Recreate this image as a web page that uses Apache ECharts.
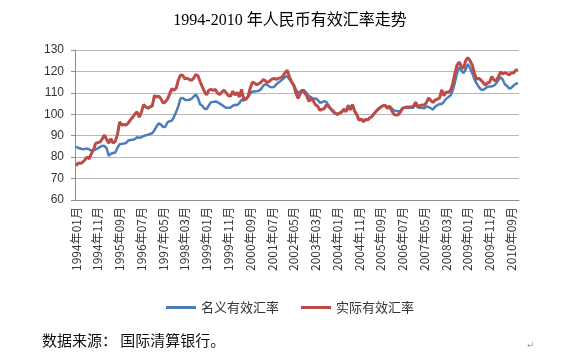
<!DOCTYPE html>
<html><head><meta charset="utf-8">
<script src="https://cdn.jsdelivr.net/npm/echarts@6/dist/echarts.min.js"></script>
<style>html,body{margin:0;padding:0;background:#fff}#c{width:580px;height:361px}</style>
</head><body><div id="c"></div>
<script>
// Category range: monthly, 1994-01 .. 2010-12
const startYear = 1994, endYear = 2010;
const categories = [];
for (let y = startYear; y <= endYear; y++) for (let m = 1; m <= 12; m++) categories.push(y + '年' + (m < 10 ? '0' + m : m) + '月');

const seriesNames = ['名义有效汇率', '实际有效汇率'];
const yTicks = [60, 70, 80, 90, 100, 110, 120, 130];

// 名义有效汇率 (nominal), monthly
const nominal = [
84.9,84.3,84.0,83.7,83.8,84.0,83.6,83.0,83.2,83.6,84.1,84.8,
85.3,85.2,84.2,80.6,81.6,81.9,82.2,84.4,86.0,86.2,86.4,86.6,
87.8,88.0,88.1,88.4,89.3,89.0,89.3,89.8,90.2,90.4,90.8,91.2,
92.6,94.4,95.8,95.2,94.0,94.2,96.2,96.8,97.0,98.8,101.2,103.8,
107.4,107.6,106.8,106.6,106.8,107.2,108.2,109.2,107.6,104.6,104.0,102.6,
102.4,104.2,105.6,105.8,106.0,105.6,105.0,104.4,103.6,103.0,103.0,103.2,
104.0,104.4,104.3,105.2,106.8,106.4,107.4,108.2,109.6,110.6,110.6,110.8,
111.0,111.8,113.4,114.0,113.6,112.8,112.6,112.8,114.0,114.8,115.6,116.4,
117.4,117.8,116.4,115.0,113.6,111.6,110.0,110.6,111.4,111.0,109.8,108.4,
108.0,107.2,107.4,106.8,105.4,105.6,106.2,105.6,104.2,102.4,101.2,100.4,
99.8,100.4,101.0,102.2,101.6,104.2,103.0,104.5,101.6,99.8,97.4,97.8,
96.6,97.6,97.4,98.4,99.0,100.4,101.6,102.6,103.4,104.0,104.2,103.2,
103.8,102.8,101.8,101.6,101.4,101.6,102.8,103.0,103.2,103.0,103.0,103.2,
104.6,103.2,103.0,103.0,102.8,103.6,103.4,102.8,102.2,103.6,104.2,104.8,
104.8,105.8,107.2,108.0,108.8,111.0,114.6,119.0,122.0,120.6,119.2,121.0,
123.4,121.6,119.2,116.4,114.4,112.8,111.6,111.4,112.0,112.8,113.0,113.0,
113.4,114.4,116.0,117.4,116.2,114.0,113.2,112.0,112.4,113.4,114.2,114.6
];

// 实际有效汇率 (real), monthly
const real = [
75.9,77.3,77.1,77.6,78.7,80.0,79.2,81.5,83.5,86.4,86.8,87.0,
88.5,90.4,88.3,86.5,88.6,86.5,87.4,90.5,96.4,95.0,95.2,95.0,
96.0,97.4,98.6,100.1,101.1,98.6,101.0,104.5,103.5,102.8,103.5,103.8,
108.8,108.0,108.5,107.2,105.2,105.8,107.0,109.5,112.0,111.2,112.2,116.0,
118.3,118.2,116.5,116.8,116.3,115.8,116.8,118.6,118.0,115.2,112.8,110.6,
109.0,111.3,111.6,111.2,111.6,109.8,109.2,110.4,111.3,110.0,108.6,108.5,
110.8,109.0,110.2,108.0,111.6,107.2,106.8,108.3,112.2,115.0,114.5,113.8,
114.3,115.0,116.2,115.6,114.8,115.6,116.4,116.8,116.2,116.8,117.0,117.8,
119.3,120.6,117.5,115.2,113.6,109.8,107.4,109.6,111.4,110.0,108.6,106.0,
107.4,106.2,104.4,103.8,101.8,102.4,102.6,104.4,103.6,102.6,101.6,100.6,
100.0,100.6,101.0,102.4,101.2,104.0,102.0,104.5,101.4,99.8,97.2,97.8,
96.6,97.6,97.4,98.4,99.0,100.4,101.6,102.6,103.4,104.0,104.2,102.8,
103.6,101.8,100.0,99.6,99.8,101.0,102.8,103.2,103.4,103.4,103.4,103.8,
105.6,103.8,104.0,104.4,104.2,105.6,107.6,106.4,105.5,106.7,107.0,107.6,
111.4,108.6,110.4,110.2,111.0,114.0,119.0,122.8,124.4,122.4,121.4,125.0,
126.4,125.0,123.0,119.2,116.4,116.8,116.0,114.8,113.6,114.6,115.0,117.6,
116.0,115.6,117.4,119.8,118.8,119.4,119.0,118.4,119.4,119.2,120.6,120.8
];

const chart = echarts.init(document.getElementById('c'), null, {renderer: 'canvas'});
chart.setOption({
  animation: false,
  backgroundColor: '#ffffff',
  title: {
    text: '1994-2010 年人民币有效汇率走势',
    left: 'center', top: 8,
    textStyle: {fontFamily: '"Liberation Serif","Noto Sans CJK SC"', fontSize: 16, fontWeight: 'normal', color: '#000'}
  },
  legend: {
    bottom: 42, left: 'center',
    itemWidth: 30, itemHeight: 3, itemGap: 22,
    icon: 'rect',
    textStyle: {fontFamily: '"Noto Sans CJK SC"', fontSize: 13, color: '#333'},
    data: seriesNames
  },
  grid: {left: 75, right: 61, top: 50, bottom: 161},
  xAxis: {
    type: 'category', data: categories, boundaryGap: true,
    axisLine: {lineStyle: {color: '#8c8c8c', width: 1}},
    axisTick: {interval: 9, alignWithLabel: true, length: 5, lineStyle: {color: '#8c8c8c'}},
    axisLabel: {interval: 9, rotate: 90, fontSize: 12, color: '#333', fontFamily: '"Noto Sans CJK SC"', margin: 7}
  },
  yAxis: {
    type: 'value', min: yTicks[0], max: yTicks[yTicks.length - 1], interval: 10,
    axisLine: {show: true, lineStyle: {color: '#8c8c8c'}},
    axisTick: {show: true, length: 4, lineStyle: {color: '#8c8c8c'}},
    axisLabel: {fontSize: 12, color: '#333', fontFamily: '"Liberation Sans"', margin: 11},
    splitLine: {lineStyle: {color: '#b8b8b8', width: 1}}
  },
  series: [
    {name: seriesNames[0], type: 'line', data: nominal, symbol: 'none', smooth: false,
     lineStyle: {color: '#4a7ebb', width: 2.5}, itemStyle: {color: '#4a7ebb'}, z: 2},
    {name: seriesNames[1], type: 'line', data: real, symbol: 'none', smooth: false,
     lineStyle: {color: '#be4b48', width: 3}, itemStyle: {color: '#be4b48'}, z: 3}
  ],
  graphic: [
    {type: 'text', left: 42, top: 333, style: {text: '数据来源： 国际清算银行。', font: '15px "Noto Sans CJK SC"', fill: '#111'}},
    {type: 'text', left: 527, top: 341, style: {text: '↵', font: '9px "DejaVu Sans"', fill: '#999'}}
  ]
});
</script>
</body></html>
